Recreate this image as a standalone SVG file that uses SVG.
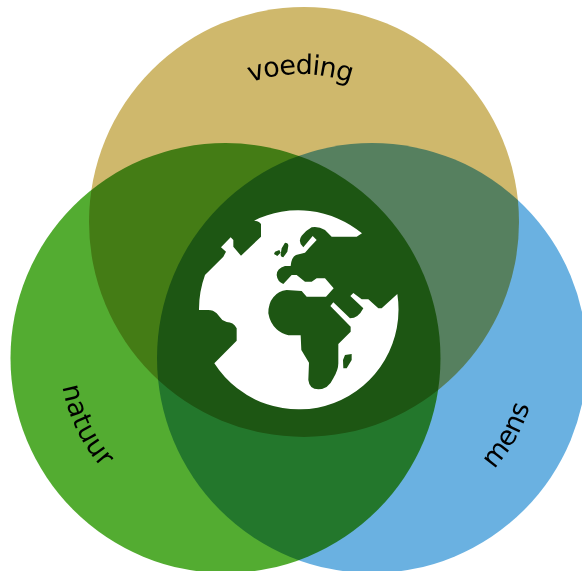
<svg xmlns="http://www.w3.org/2000/svg" width="582" height="571" viewBox="0 0 582 571">
  <style>
    .c { mix-blend-mode: multiply; }
    .t { font-family: "DejaVu Sans", sans-serif; fill: #000; text-anchor: middle; font-size: 27px; }
  </style>
  <defs>
    <path id="arcTop" d="M 152 222 A 148 148 0 0 1 448 222"/>
    <path id="arcLeft" d="M 60 358 A 165 165 0 0 0 225 523"/>
    <path id="arcRight" d="M 372 523 A 165 165 0 0 0 537 358"/>
  </defs>
  <rect width="582" height="571" fill="#fff"/>
  <g id="natuur">
    <circle class="c" cx="225.500" cy="358" r="215" fill="#53ac31"/>
  </g>
  <g id="mens">
    <circle class="c" cx="372" cy="358" r="215" fill="#6ab1e1"/>
  </g>
  <g id="voeding">
    <circle class="c" cx="304" cy="222" r="215" fill="#cfb86c"/>
  </g>
  <g id="labels">
    <text class="t" letter-spacing="-1"><textPath href="#arcTop" startOffset="50%">voeding</textPath></text>
    <text class="t" letter-spacing=".4"><textPath href="#arcLeft" startOffset="28.800%">natuur</textPath></text>
    <text class="t" letter-spacing="-.3"><textPath href="#arcRight" startOffset="67%">mens</textPath></text>
  </g>
  <g id="globe">
    <path transform="translate(190 200) scale(.33333)" fill="#fff" fill-rule="evenodd" d="M192 62 A300 300 0 0 1 516 100 L500 110 L425 110 L405 90 Q385 78 365 82 Q350 90 335 107 Q322 125 340 142 L368 108 L380 120 L358 143 L345 158 L318 165 Q304 172 302 198 L285 198 Q260 205 260 225 Q262 245 280 252 L305 225 L320 225 L345 245 L365 245 L380 235 L405 235 L431 265 L408 290 L350 290 L335 273 L290 270 Q265 272 250 292 Q235 310 235 340 Q240 370 260 388 Q275 402 295 406 L332 406 L334 450 L357 488 L355 540 Q358 568 385 568 Q415 568 430 535 Q445 510 445 490 L445 432 L482 395 L482 380 L421 318 L430 307 L480 355 Q505 355 520 325 L481 288 L490 279 L515 298 L535 298 L565 325 L575 325 L622 282 A300 300 0 0 1 73 490 L140 422 L140 385 Q130 366 110 366 L97 360 L80 340 Q70 330 55 330 L27 330 A300 300 0 0 1 45 225 L100 170 L108 155 L93 142 L122 112 L130 120 L130 140 L153 167 L213 110 L213 72 Q205 62 192 62 Z M285 128 Q295 128 295 137 L292 155 L280 172 Q272 172 272 163 L275 145 Z M268 150 L272 158 L262 168 L252 162 L255 155 Z M465 465 L485 462 L485 480 L470 505 L460 505 L459 480 Z"/>
  </g>
</svg>
